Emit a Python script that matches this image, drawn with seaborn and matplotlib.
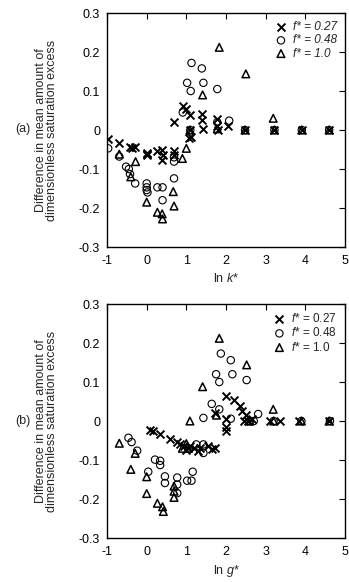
import seaborn as sns
import matplotlib.pyplot as plt
import pandas as pd

# panel (a): ln k*
k_x027 = [-0.97, -0.69, -0.42, -0.36, -0.29, 0.0, 0.0, 0.02, 0.25, 0.38, 0.38, 0.40, 0.69, 0.69, 0.69,
          0.92, 1.0, 1.07, 1.1, 1.11, 1.1, 1.39, 1.39, 1.43, 1.78, 1.78, 1.8, 2.06, 2.48, 3.22, 3.91, 4.6]
k_y027 = [-0.024, -0.033, -0.043, -0.045, -0.043, -0.058, -0.065, -0.062, -0.053, -0.05, -0.077, -0.065,
          -0.055, -0.065, 0.02, 0.062, 0.055, -0.021, 0.038, -0.017, 0.0, 0.04, 0.025, 0.003, 0.028, 0.01,
          0.0, 0.01, 0.0, 0.0, 0.0, 0.0]
k_x048 = [-0.97, -0.69, -0.52, -0.45, -0.42, -0.29, 0.0, 0.0, 0.0, 0.02, 0.27, 0.40, 0.40, 0.69, 0.69,
          0.69, 0.91, 1.02, 1.11, 1.13, 1.39, 1.43, 1.78, 1.78, 2.08, 1.1, 2.48, 3.22, 3.91, 4.6]
k_y048 = [-0.047, -0.068, -0.094, -0.10, -0.113, -0.137, -0.137, -0.147, -0.154, -0.16, -0.147, -0.147,
          -0.18, -0.124, -0.081, -0.07, 0.045, 0.121, 0.10, 0.172, 0.158, 0.121, 0.105, 0.02, 0.024, 0.0,
          0.0, 0.0, 0.0, 0.0]
k_x10 = [-0.69, -0.40, -0.28, 0.0, 0.27, 0.39, 0.40, 0.67, 0.69, 0.90, 1.0, 1.09, 1.41, 1.78, 1.83,
         2.50, 3.19, 2.48, 3.22, 3.91, 4.6]
k_y10 = [-0.062, -0.12, -0.081, -0.185, -0.211, -0.215, -0.228, -0.158, -0.195, -0.073, -0.047, 0.0,
         0.09, 0.003, 0.212, 0.144, 0.030, 0.0, 0.0, 0.0, 0.0]

# panel (b): ln g*
g_x027 = [0.08, 0.17, 0.34, 0.59, 0.76, 0.85, 0.93, 0.98, 1.05, 1.1, 1.2, 1.3, 1.35, 1.55, 1.65, 1.72,
          2.0, 1.72, 2.0, 2.2, 2.35, 2.4, 2.5, 2.55, 2.65, 2.0, 2.0, 3.1, 3.35, 3.85, 4.6, 2.45]
g_y027 = [-0.022, -0.026, -0.033, -0.047, -0.055, -0.06, -0.065, -0.075, -0.07, -0.065, -0.068, -0.078,
          -0.07, -0.063, -0.072, -0.07, -0.026, 0.021, 0.064, 0.054, 0.039, 0.025, 0.015, 0.0, 0.005,
          0.005, -0.016, 0.0, 0.0, 0.0, 0.0, 0.0]
g_x048 = [-0.46, -0.38, -0.24, 0.04, 0.21, 0.34, 0.34, 0.46, 0.46, 0.77, 0.77, 0.77, 1.02, 1.13, 1.16,
          1.25, 1.43, 1.43, 1.43, 1.64, 1.83, 1.75, 1.83, 1.87, 2.12, 2.16, 2.52, 2.12, 2.6, 2.7, 2.81,
          3.2, 3.9, 4.62]
g_y048 = [-0.043, -0.054, -0.076, -0.13, -0.099, -0.102, -0.113, -0.142, -0.159, -0.145, -0.163, -0.185,
          -0.153, -0.153, -0.13, -0.06, -0.06, -0.082, 0.008, 0.044, 0.03, 0.12, 0.10, 0.173, 0.156, 0.12,
          0.105, 0.006, 0.0, 0.0, 0.018, 0.0, 0.0, 0.0]
g_x10 = [-0.69, -0.40, -0.29, 0.0, 0.0, 0.27, 0.40, 0.42, 0.69, 0.69, 0.69, 0.9, 1.0, 1.05, 1.09, 1.41,
         1.76, 1.83, 2.52, 3.19, 2.6, 3.2, 3.9, 4.6]
g_y10 = [-0.057, -0.124, -0.083, -0.143, -0.186, -0.211, -0.22, -0.232, -0.167, -0.196, -0.18, -0.07,
         -0.058, -0.07, 0.0, 0.088, 0.015, 0.212, 0.144, 0.030, 0.0, 0.0, 0.0, 0.0]

x_ticks = [-1, 0, 1, 2, 3, 4, 5]
y_ticks = [-0.3, -0.2, -0.1, 0, 0.1, 0.2, 0.3]
y_ticklabels = ["-0.3", "-0.2", "-0.1", "0", "0.1", "0.2", "0.3"]

sns.set_style("white")
plt.rcParams['font.family'] = ['Liberation Sans', 'DejaVu Sans']
plt.rcParams['mathtext.fontset'] = 'custom'
plt.rcParams['mathtext.it'] = 'Liberation Sans:italic'
plt.rcParams['mathtext.rm'] = 'Liberation Sans'
plt.rcParams['axes.unicode_minus'] = False

fig = plt.figure(figsize=(3.49, 5.82), dpi=100)
ax_a = fig.add_axes([0.3066, 0.5756, 0.682, 0.402])
ax_b = fig.add_axes([0.3066, 0.0756, 0.682, 0.402])

panels = [
    (ax_a, [(k_x027, k_y027), (k_x048, k_y048), (k_x10, k_y10)],
     ["f* = 0.27", "f* = 0.48", "f* = 1.0"], r"ln $k$*", "(a)", 0.7784, True),
    (ax_b, [(g_x027, g_y027), (g_x048, g_y048), (g_x10, g_y10)],
     [r"$f$* = 0.27", r"$f$* = 0.48", r"$f$* = 1.0"], r"ln $g$*", "(b)", 0.2766, False),
]

for ax, series, labels, xlabel, tag, tag_y, italic in panels:
    (x1, y1), (x2, y2), (x3, y3) = series
    sns.scatterplot(x=x1, y=y1, ax=ax, marker="x", s=32, color="black", linewidth=1.4, label=labels[0])
    sns.scatterplot(x=x2, y=y2, ax=ax, marker="o", s=28, facecolor="none", edgecolor="black",
                    linewidth=0.8, label=labels[1])
    sns.scatterplot(x=x3, y=y3, ax=ax, marker="^", s=30, facecolor="none", edgecolor="black",
                    linewidth=1.1, label=labels[2])

    ax.set_xlim(-1, 5)
    ax.set_ylim(-0.3, 0.3)
    ax.set_xticks(x_ticks)
    ax.set_yticks(y_ticks)
    ax.set_yticklabels(y_ticklabels)
    ax.tick_params(direction="in", length=4, width=0.8, top=True, right=True,
                   labelsize=9, pad=5, colors="black")
    ax.tick_params(axis="x", pad=6)
    for sp in ax.spines.values():
        sp.set_color("black")
        sp.set_linewidth(1.0)
    ax.set_xlabel(xlabel, fontsize=9, labelpad=3)
    ax.set_ylabel("Difference in mean amount of\ndimensionless saturation excess", fontsize=9,
                  linespacing=0.95)
    ax.yaxis.set_label_coords(-0.205, 0.5)
    ax.grid(False)

    leg = ax.legend(loc="upper right", frameon=False, fontsize=8.5, handletextpad=0.4,
                    borderaxespad=0.3, labelspacing=0.1, handlelength=1.2)
    if italic:
        for t in leg.get_texts():
            t.set_fontstyle("italic")

    fig.text(23 / 349, tag_y, tag, fontsize=9, ha="center", va="center")

fig.savefig("out.png", dpi=100, facecolor="white")
